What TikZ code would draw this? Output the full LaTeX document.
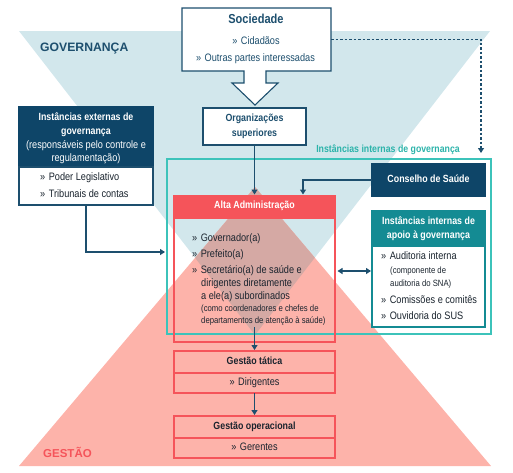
\documentclass[tikz,border=0pt]{standalone}
\usepackage{fontspec}
\setmainfont{Liberation Sans}[FakeStretch=0.85]
\newfontfamily\widefont{Liberation Sans}
\usetikzlibrary{arrows.meta,calc}
\definecolor{navy}{HTML}{0E4568}
\definecolor{navyline}{HTML}{1D4F6E}
\definecolor{govblue}{HTML}{D2E7EC}
\definecolor{salmon}{HTML}{FDB3AA}
\definecolor{overlapc}{HTML}{D5A9A4}
\definecolor{redh}{HTML}{F5545A}
\definecolor{tealline}{HTML}{3CC3BA}
\definecolor{tealtext}{HTML}{2BB3AA}
\definecolor{tealhead}{HTML}{148B93}
\definecolor{txt}{HTML}{1A242E}
\begin{document}
\begin{tikzpicture}[x=1pt,y=-1pt,
  sz/.style 2 args={minimum width=#1pt,minimum height=#2pt},
  bx/.style={draw,inner sep=0pt,outer sep=0pt,line width=1.1pt},
  navybox/.style={bx,draw=navyline},
  redbox/.style={bx,draw=redh},
  tealbox/.style={bx,draw=tealline},
  hd/.style={inner sep=0pt,font=\fontsize{10.4}{12}\selectfont\bfseries},
  rg/.style={inner sep=0pt,font=\fontsize{10.8}{12}\selectfont},
  sm/.style={inner sep=0pt,font=\fontsize{9.1}{10}\selectfont},
  conn/.style={draw=navyline,line width=1.1pt,-{Triangle[length=5pt,width=6pt]}},
]
\useasboundingbox (0,0) rectangle (513,472);
% triangles
\fill[govblue] (19,31) -- (490,31) -- (255,335) -- cycle;
\fill[salmon] (255,187) -- (491,466) -- (19,466) -- cycle;
\begin{scope}
  \clip (19,31) -- (490,31) -- (255,335) -- cycle;
  \fill[overlapc] (255,187) -- (491,466) -- (19,466) -- cycle;
\end{scope}
\node[anchor=mid west,inner sep=0pt,text=navyline,font=\widefont\fontsize{12.2}{14}\selectfont\bfseries] (govlbl) at (40,49) {GOVERNANÇA};
\node[anchor=mid west,inner sep=0pt,text=redh,font=\widefont\fontsize{11.5}{14}\selectfont\bfseries] (geslbl) at (43,455) {GESTÃO};

% internal governance frame
\node[tealbox,sz={324}{175}] (intfr) at (329,246.5) {};
\node[anchor=mid east,inner sep=0pt,text=tealtext,font=\fontsize{10.3}{12}\selectfont\bfseries] (intlbl) at (460,150) {Instâncias internas de governança};

% Sociedade
\node[inner sep=0pt,outer sep=0pt,sz={149}{63}] (soc) at (256.5,39.5) {};
\draw[navyline,line width=1.1pt,fill=white] (182,8) -- (331,8) -- (331,71) -- (266,71) -- (266,83) -- (278,83) -- (255,105) -- (232,83) -- (244,83) -- (244,71) -- (182,71) -- cycle;
\node[inner sep=0pt,text=navyline,font=\fontsize{13}{15}\selectfont\bfseries,anchor=mid] (soct) at (256,21) {Sociedade};
\node[rg,text=navyline,anchor=mid] (soc1) at (256,42) {»\hspace{3.5pt}Cidadãos};
\node[rg,text=navyline,anchor=mid] (soc2) at (255.5,59) {»\hspace{3.5pt}Outras partes interessadas};

% Organizacoes superiores
\node[navybox,fill=white,sz={103}{37}] (org) at (254.5,126.5) {};
\node[hd,text=navyline,anchor=mid] (org1) at (254.5,119) {Organizações};
\node[hd,text=navyline,anchor=mid] (org2) at (254.5,134) {superiores};

% Instancias externas
\node[bx,draw=navy,fill=navy,sz={134}{60}] (exth) at (86,137) {};
\node[navybox,fill=white,sz={134}{38}] (extb) at (86,186) {};
\node[hd,text=white,anchor=mid] (ext1) at (86,118) {Instâncias externas de};
\node[hd,text=white,anchor=mid] (ext2) at (86,132) {governança};
\node[rg,text=white,anchor=mid] (ext3) at (86,146) {(responsáveis pelo controle e};
\node[rg,text=white,anchor=mid] (ext4) at (86,159) {regulamentação)};
\node[rg,text=txt,anchor=mid west] (ext5) at (40,178) {»\hspace{3.5pt}Poder Legislativo};
\node[rg,text=txt,anchor=mid west] (ext6) at (40,195) {»\hspace{3.5pt}Tribunais de contas};

% Alta Administracao
\node[bx,draw=redh,fill=redh,sz={161}{22}] (altah) at (254.5,207) {};
\node[redbox,sz={161}{124}] (altab) at (254.5,280) {};
\node[hd,text=white,anchor=mid] (alta0) at (254.5,206) {Alta Administração};
\node[rg,text=txt,anchor=mid west] (alta1) at (192,239) {»\hspace{3.5pt}Governador(a)};
\node[rg,text=txt,anchor=mid west] (alta2) at (192,255) {»\hspace{3.5pt}Prefeito(a)};
\node[rg,text=txt,anchor=mid west] (alta3) at (192,271) {»\hspace{3.5pt}Secretário(a) de saúde e};
\node[rg,text=txt,anchor=mid west] (alta4) at (201,284) {dirigentes diretamente};
\node[rg,text=txt,anchor=mid west] (alta5) at (201,297) {a ele(a) subordinados};
\node[sm,text=txt,anchor=mid west] (alta6) at (201,308.5) {(como coordenadores e chefes de};
\node[sm,text=txt,anchor=mid west] (alta7) at (201,320.5) {departamentos de atenção à saúde)};

% Conselho de Saude
\node[bx,draw=navy,fill=navy,sz={113}{32}] (cons) at (428.5,180) {};
\node[hd,text=white,anchor=mid] (cons1) at (428.5,180) {Conselho de Saúde};

% Instancias internas de apoio
\node[bx,draw=tealhead,fill=tealhead,sz={113}{35}] (apoh) at (428.5,228.5) {};
\node[bx,draw=tealhead,fill=white,sz={113}{81}] (apob) at (428.5,286.5) {};
\node[hd,text=white,anchor=mid] (apo1) at (428.5,222) {Instâncias internas de};
\node[hd,text=white,anchor=mid] (apo2) at (428.5,236) {apoio à governança};
\node[rg,text=txt,anchor=mid west] (apo3) at (381,257) {»\hspace{3.5pt}Auditoria interna};
\node[sm,text=txt,anchor=mid west] (apo4) at (390,271) {(componente de};
\node[sm,text=txt,anchor=mid west] (apo5) at (390,284) {auditoria do SNA)};
\node[rg,text=txt,anchor=mid west] (apo6) at (381,301) {»\hspace{3.5pt}Comissões e comitês};
\node[rg,text=txt,anchor=mid west] (apo7) at (381,317) {»\hspace{3.5pt}Ouvidoria do SUS};

% Gestao tatica
\node[redbox,sz={161}{22}] (tath) at (254.5,362) {};
\node[redbox,sz={161}{20}] (tatb) at (254.5,383) {};
\node[hd,text=txt,anchor=mid] (tat1) at (254.5,362) {Gestão tática};
\node[rg,text=txt,anchor=mid] (tat2) at (254.5,383) {»\hspace{3.5pt}Dirigentes};

% Gestao operacional
\node[redbox,sz={161}{22}] (oph) at (254.5,427) {};
\node[redbox,sz={161}{20}] (opb) at (254.5,448) {};
\node[hd,text=txt,anchor=mid] (op1) at (254.5,427) {Gestão operacional};
\node[rg,text=txt,anchor=mid] (op2) at (254.5,448) {»\hspace{3.5pt}Gerentes};

% connectors
\coordinate (extin) at (165,252);
\coordinate (dotend) at (481,153);
\draw[conn] (org.south) -- ([yshift=1.5pt]altah.north);
\draw[conn] (cons.west) -| ([xshift=48.5pt,yshift=1.5pt]altah.north);
\draw[conn] (extb.south) |- (extin);
\draw[conn,dash pattern=on 2.5pt off 2pt] (soc.east) -| (dotend);
\draw[conn,{Triangle[length=5pt,width=6pt]}-{Triangle[length=5pt,width=6pt]},shorten <=2.5pt,shorten >=1pt] ([yshift=9pt]altab.east) -- ([yshift=15.5pt]apob.west);
\draw[conn] ([yshift=15pt]altab.south) -- ([yshift=1pt]tath.north);
\draw[conn] (tatb.south) -- ([yshift=1pt]oph.north);
\end{tikzpicture}
\end{document}
